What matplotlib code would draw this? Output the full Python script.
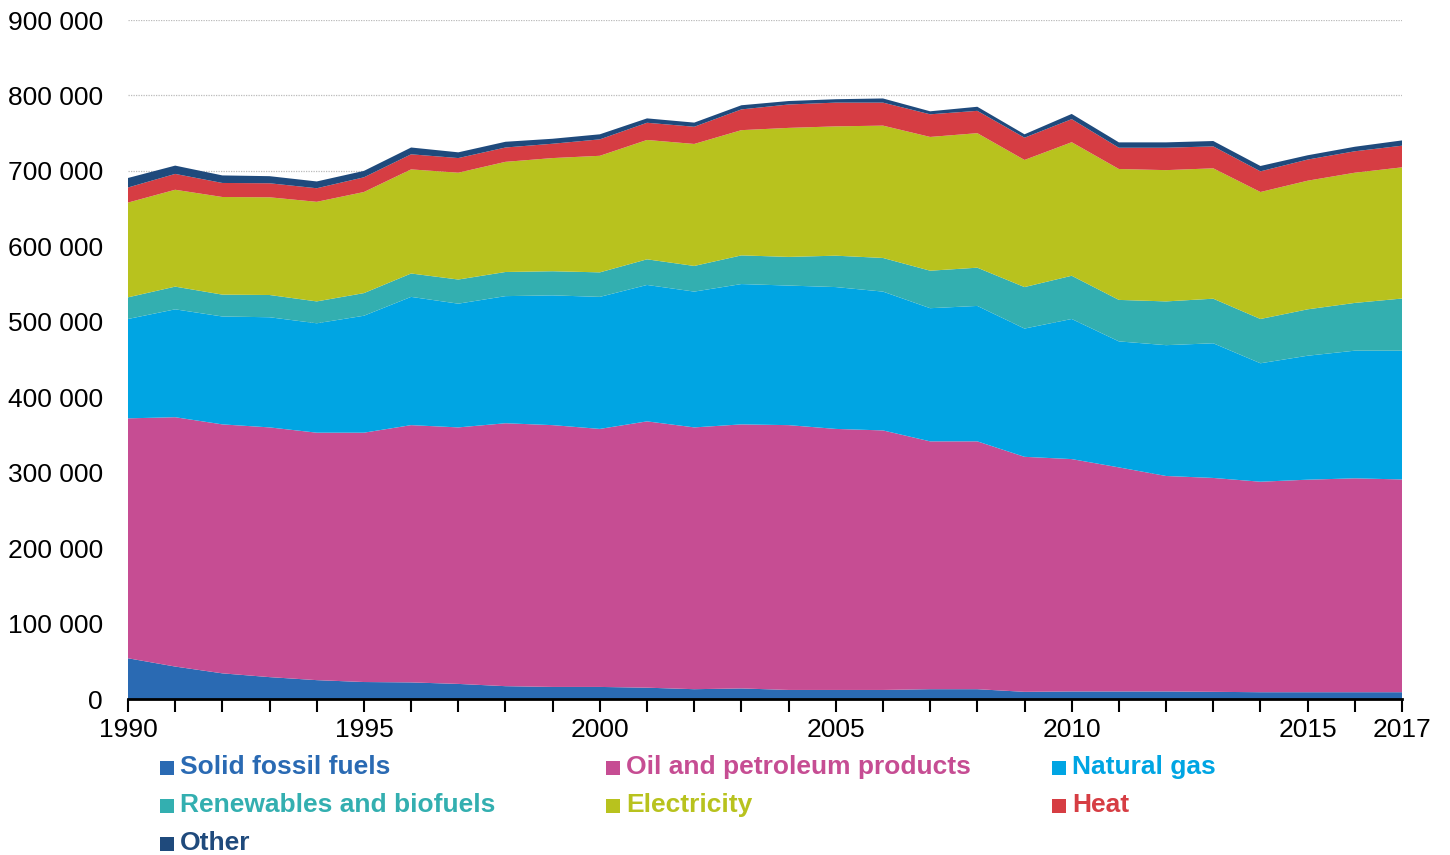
import matplotlib
matplotlib.use("Agg")
import matplotlib.pyplot as plt
from matplotlib.patches import Rectangle
from matplotlib.ticker import FuncFormatter, MultipleLocator

plt.rcParams['font.family'] = ['Liberation Sans', 'DejaVu Sans']

years = list(range(1990, 2018))

# values in thousands
solid = [54, 43, 34, 29, 25, 22.5, 22, 20, 17, 16, 16, 15, 13, 14, 12, 12, 12, 13, 13, 9.5,
         10, 10, 10, 9.5, 9, 9, 9, 9]
oil = [318, 330.5, 330, 331, 328, 330.5, 341, 340, 348.5, 347, 342, 353, 347, 350, 351, 346,
       344, 328.5, 328.5, 311.5, 308, 297, 285.6, 283.5, 279, 281.7, 283.5, 282]
gas = [131.7, 143, 143, 146, 145, 155, 170, 164, 168.5, 172, 175, 180.8, 180, 186, 185, 188,
       184, 176.5, 179.5, 170, 185.7, 167, 173.4, 178.5, 157, 164.3, 169.2, 170.7]
renew = [28.7, 30.1, 29, 29.5, 29, 30, 31, 32, 32, 32, 32.5, 34, 34, 38, 38, 41.6, 44.6, 49.7,
         50.7, 55, 57.3, 55, 58, 59.1, 58.7, 61.5, 63.3, 69.1]
elec = [125.6, 128.4, 129.4, 129.5, 132, 134, 138, 141.6, 146, 150, 154.5, 158.2, 161.7, 166,
        171, 171.4, 175.4, 177.3, 178.3, 168.5, 177, 173.5, 174, 172.8, 168.3, 170.5, 172.6, 173.9]
heat = [20, 21, 18.6, 18.6, 18, 19.5, 20, 19.4, 19, 19, 21.8, 22.8, 22.8, 27.5, 31, 31.5, 30.5,
        30, 29.6, 29.5, 30.6, 28.2, 29.7, 29.1, 27.4, 28, 28.4, 28.7]
other = [12.6, 11, 10, 9.4, 9, 8.5, 9, 7.6, 7.6, 6.6, 6.7, 5.8, 5.5, 5.5, 4.6, 4.5, 5.5, 4,
         5.4, 4.5, 6.9, 7.1, 7.1, 7.1, 7.1, 5.7, 6, 7]

labels = ["Solid fossil fuels", "Oil and petroleum products", "Natural gas",
          "Renewables and biofuels", "Electricity", "Heat", "Other"]
colors = ["#2a6ab3", "#c64d93", "#00a5e3", "#33afb0", "#b8c21e", "#d63d43", "#1f4a7c"]

series = [solid, oil, gas, renew, elec, heat, other]
series = [[v * 1000 for v in s] for s in series]

fig = plt.figure(figsize=(14.5, 8.55), dpi=100)
ax = fig.add_axes([128 / 1450, 1 - 699 / 855, (1402 - 128) / 1450, (699 - 20) / 855])

ax.stackplot(years, *series, colors=colors, linewidth=0, zorder=2)

ax.set_xlim(1990, 2017)
ax.set_ylim(0, 900000)
ax.yaxis.set_major_locator(MultipleLocator(100000))
ax.yaxis.set_major_formatter(FuncFormatter(lambda v, p: f"{v:,.0f}".replace(",", " ")))
ax.grid(axis='y', color='#bbbbbb', linestyle=(0, (1, 1)), linewidth=0.9, zorder=0)
ax.set_axisbelow(True)

for s in ['left', 'right', 'top']:
    ax.spines[s].set_visible(False)
ax.spines['bottom'].set_color('black')
ax.spines['bottom'].set_linewidth(2)
ax.spines['bottom'].set_zorder(5)

ax.set_xticks(years, minor=True)
ax.set_xticks([1990, 1995, 2000, 2005, 2010, 2015, 2017])
ax.tick_params(axis='x', which='both', direction='out', length=9, width=1.5, color='black',
               labelsize=19, pad=5)
ax.tick_params(axis='y', length=0, labelsize=19, pad=18)

# legend (manual, row-major)
col_x = [160, 606, 1052]
row_base = [774, 812, 850]
for i, (lab, c) in enumerate(zip(labels, colors)):
    r, cidx = divmod(i, 3)
    x = col_x[cidx]
    b = row_base[r]
    fig.patches.append(Rectangle((x / 1450, 1 - (b + 1) / 855), 14 / 1450, 14 / 855,
                                 transform=fig.transFigure, facecolor=c, edgecolor='none'))
    fig.text((x + 20) / 1450, 1 - b / 855, lab, color=c, fontsize=19, fontweight='bold',
             va='baseline', ha='left')

fig.savefig("out.png", dpi=100)
